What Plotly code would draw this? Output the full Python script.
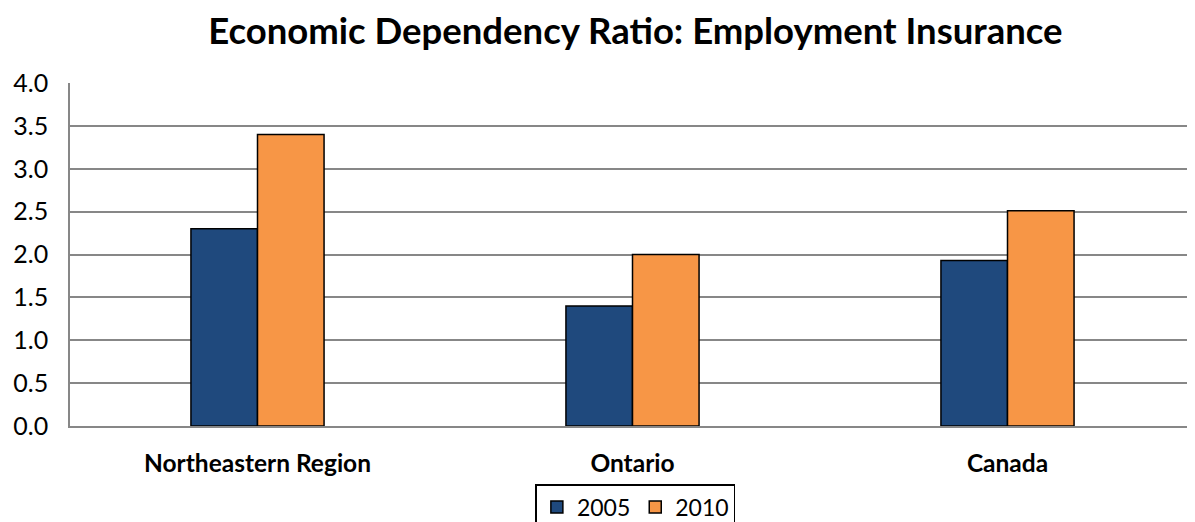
import plotly.graph_objects as go

# Chart data
regions = ["Northeastern Region", "Ontario", "Canada"]
ratio_2005 = [2.3, 1.4, 1.93]
ratio_2010 = [3.4, 2.0, 2.51]
y_ticks = [0, 0.5, 1.0, 1.5, 2.0, 2.5, 3.0, 3.5, 4.0]

font_family = "Lato, 'Open Sans', sans-serif"
grid_color = "#878787"

fig = go.Figure()

fig.add_trace(go.Bar(
    x=regions,
    y=ratio_2005,
    name="2005",
    marker=dict(color="#1f497d", line=dict(color="black", width=1.5)),
))
fig.add_trace(go.Bar(
    x=regions,
    y=ratio_2010,
    name="2010",
    marker=dict(color="#f79646", line=dict(color="black", width=1.5)),
))

# the page adds an 8px body margin, so margins are shifted to compensate
fig.update_layout(
    width=1195,
    height=522,
    plot_bgcolor="white",
    paper_bgcolor="white",
    font=dict(family=font_family, color="black"),
    title=dict(
        text="<b>Economic Dependency Ratio: Employment Insurance</b>",
        font=dict(size=36.5, family=font_family),
        x=0.525,
        xanchor="center",
        y=0.955,
        yanchor="middle",
    ),
    barmode="group",
    bargap=0.645,
    bargroupgap=0,
    margin=dict(l=62, r=8, t=75, b=104, autoexpand=False),
    showlegend=True,
    legend=dict(
        orientation="h",
        x=0.525,
        xanchor="center",
        xref="container",
        y=0.088,
        yanchor="top",
        yref="container",
        bordercolor="black",
        borderwidth=1.5,
        font=dict(size=23, family=font_family),
        itemwidth=30,
    ),
)

fig.update_yaxes(
    range=[0, 4.0],
    tickvals=y_ticks,
    tickformat=".1f",
    showgrid=True,
    gridcolor=grid_color,
    gridwidth=1.5,
    showline=True,
    linecolor=grid_color,
    linewidth=1.5,
    zeroline=False,
    ticks="",
    automargin=False,
    ticklabelstandoff=15,
    tickfont=dict(size=25, family=font_family),
)
fig.update_xaxes(
    showline=True,
    linecolor=grid_color,
    linewidth=1.5,
    showgrid=False,
    ticks="",
    automargin=False,
    ticklabelstandoff=15,
    tickfont=dict(size=24.5, family=font_family, weight="bold"),
)

fig.write_html("out.html")
